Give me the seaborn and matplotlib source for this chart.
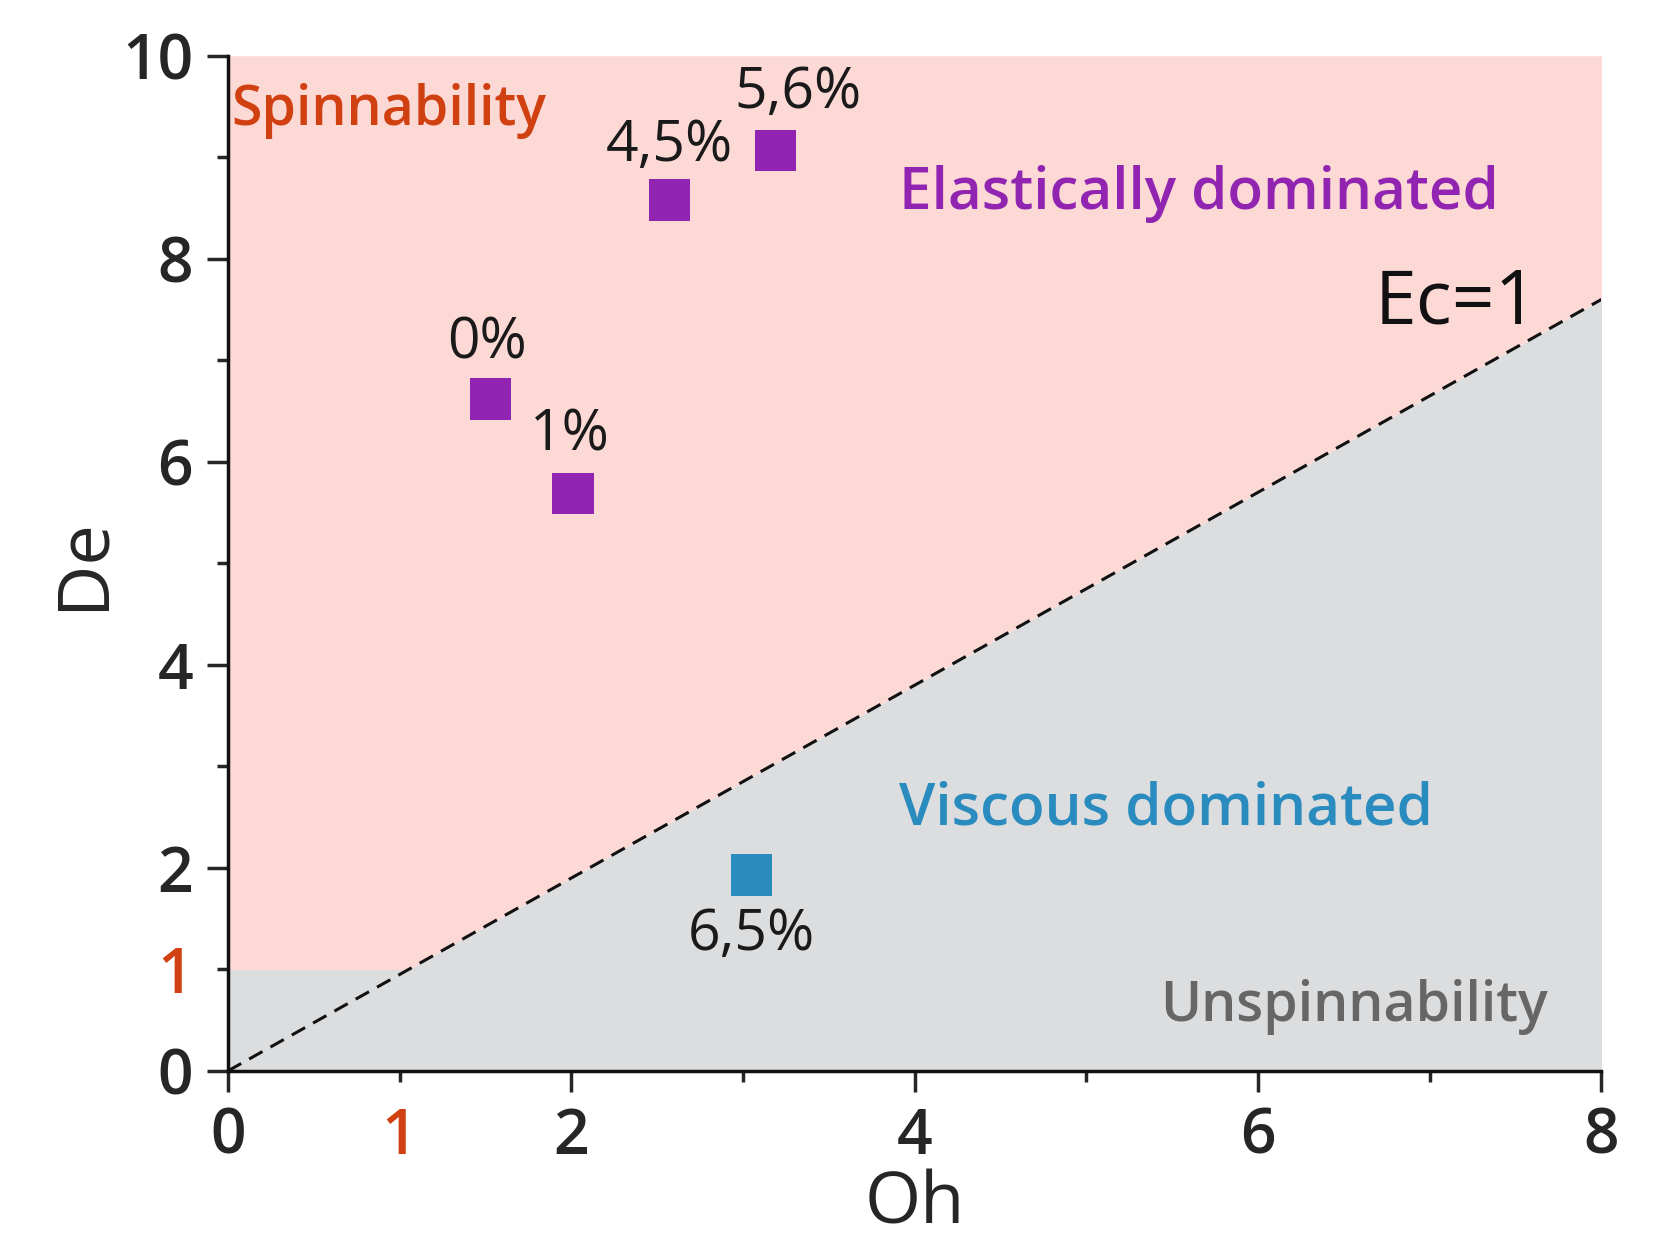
import numpy as np
import pandas as pd
import matplotlib.pyplot as plt
import seaborn as sns

# --- data ---
OH = [1.53, 2.01, 2.57, 3.19, 3.05]
DE = [6.62, 5.69, 8.58, 9.07, 1.93]
LABELS = ['0%', '1%', '4,5%', '5,6%', '6,5%']
REGIME = ['elastic', 'elastic', 'elastic', 'elastic', 'viscous']
LABEL_OH = [1.51, 1.99, 2.57, 3.32, 3.05]
LABEL_DE = [7.16, 6.25, 9.11, 9.63, 1.33]

EC_OH = [0, 8]          # Ec = 1 line
EC_DE = [0, 7.6]
DE_LIMIT = 1            # De = 1 threshold

PINK = '#fdd9d6'
GREY = '#dcdddf'
PURPLE = '#9124b0'
BLUE = '#2a8bbf'
ORANGE = '#d04010'

sns.set_style('ticks')
plt.rcParams['font.family'] = ['Open Sans', 'DejaVu Sans']

df = pd.DataFrame({'Oh': OH, 'De': DE, 'regime': REGIME, 'label': LABELS})

fig = plt.figure(figsize=(16.63, 12.39), dpi=100)
ax = fig.add_axes([0.137, 0.1356, 0.826, 0.8194])

# regions: grey below max(1, Ec line), pink above
xs = np.array(EC_OH, dtype=float)
xs = np.insert(xs, 1, DE_LIMIT / (EC_DE[1] / EC_OH[1]))
boundary = np.maximum(DE_LIMIT, np.interp(xs, EC_OH, EC_DE))
ax.fill_between(xs, 0, boundary, color=GREY, lw=0, zorder=0)
ax.fill_between(xs, boundary, 10, color=PINK, lw=0, zorder=0)

sns.lineplot(x=EC_OH, y=EC_DE, ax=ax, color='#111111', lw=2.2,
             linestyle=(0, (5, 3)), zorder=2)

sns.scatterplot(data=df, x='Oh', y='De', hue='regime',
                palette={'elastic': PURPLE, 'viscous': BLUE},
                marker='s', s=880, linewidth=0, legend=False, ax=ax, zorder=3)

for lx, ly, t in zip(LABEL_OH, LABEL_DE, LABELS):
    ax.text(lx, ly, t, fontsize=41, color='#1a1a1a', ha='center', va='center')

ax.text(0.02, 9.46, 'Spinnability', fontsize=40, color=ORANGE, weight='semibold', va='center')
ax.text(3.91, 8.64, 'Elastically dominated', fontsize=42, color=PURPLE, weight='semibold', va='center')
ax.text(3.91, 2.58, 'Viscous dominated', fontsize=42, color=BLUE, weight='semibold', va='center')
ax.text(7.69, 0.63, 'Unspinnability', fontsize=40, color='#666666', weight='semibold',
        va='center', ha='right')
ax.text(7.63, 7.55, 'Ec=1', fontsize=54, color='#111111', va='center', ha='right')

ax.set_xlim(0, 8)
ax.set_ylim(0, 10)
ax.set_xticks([0, 1, 2, 4, 6, 8])
ax.set_yticks([0, 1, 2, 4, 6, 8, 10])
ax.set_xticks([3, 5, 7], minor=True)
ax.set_yticks([3, 5, 7, 9], minor=True)
ax.tick_params(which='major', length=15, width=2.5, labelsize=45, pad=10)
ax.tick_params(which='minor', length=8, width=2.5)
for lab in ax.get_xticklabels() + ax.get_yticklabels():
    lab.set_fontweight('semibold')
    if lab.get_text() == '1':
        lab.set_color(ORANGE)
# the "1" ticks are drawn short like the minor ones
for axis_ticks in (ax.xaxis.get_major_ticks(), ax.yaxis.get_major_ticks()):
    for tk, val in zip(axis_ticks, [0, 1, 2, 4, 6, 8, 10]):
        if val == 1:
            tk.tick1line.set_markersize(8)

ax.set_xlabel('Oh', fontsize=52, labelpad=0)
ax.set_ylabel('De', fontsize=52, labelpad=2)
sns.despine(ax=ax)
for sp in ('left', 'bottom'):
    ax.spines[sp].set_linewidth(2.5)
    ax.spines[sp].set_color('#111111')

fig.savefig('out.png', dpi=100)
